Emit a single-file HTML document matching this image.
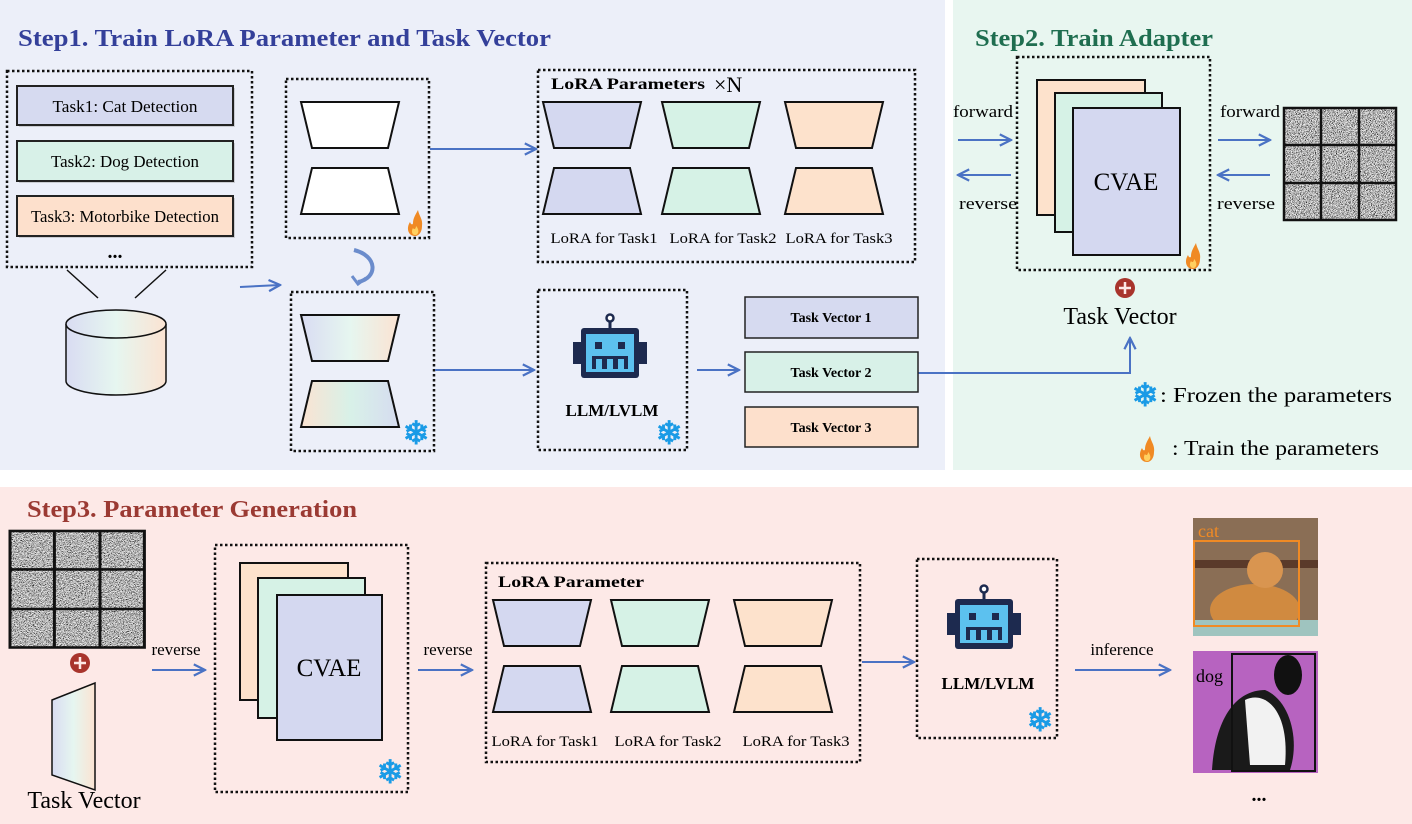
<!DOCTYPE html>
<html><head><meta charset="utf-8"><style>
html,body{margin:0;padding:0;background:#fff}
svg{display:block;font-family:"Liberation Serif",serif}
</style></head><body>
<svg width="1412" height="824" viewBox="0 0 1412 824" xmlns="http://www.w3.org/2000/svg">
<defs>
<marker id="ar" viewBox="0 0 10 10" refX="9" refY="5" markerWidth="7" markerHeight="7" orient="auto"><path d="M1,1 L9,5 L1,9" fill="none" stroke="#4a72c4" stroke-width="1.6"/></marker>
<linearGradient id="rb" x1="0" x2="1"><stop offset="0" stop-color="#d9dcf2"/><stop offset="0.5" stop-color="#e6f6f0"/><stop offset="1" stop-color="#fbe3d2"/></linearGradient>
<linearGradient id="rb2" x1="0" x2="1"><stop offset="0" stop-color="#fbe3d2"/><stop offset="0.5" stop-color="#d8f1e8"/><stop offset="1" stop-color="#d6dcf0"/></linearGradient>
<filter id="noise" x="0" y="0" width="100%" height="100%"><feTurbulence type="fractalNoise" baseFrequency="1.2" numOctaves="2" seed="3"/><feColorMatrix type="matrix" values="2.6 0 0 0 -0.8 2.6 0 0 0 -0.8 2.6 0 0 0 -0.8 0 0 0 0 1"/></filter>
<g id="enc"><path d="M0,0 H98 L87,46 H11 Z" stroke="#111" stroke-width="2"/></g>
<g id="dec"><path d="M11,0 H87 L98,46 H0 Z" stroke="#111" stroke-width="2"/></g>
<g id="flame"><path d="M0,14 C-7,14 -9,6 -5,0 C-4,3 -2,3 -2,1 C-2,-4 1,-8 3,-12 C4,-6 8,-3 7,4 C7,10 4,14 0,14 Z" fill="#f08a24"/><path d="M0,13 C-3,13 -4,9 -2,6 C-1,8 1,7 1,4 C3,6 4,9 3,11 C2,13 1,13 0,13Z" fill="#ffd060"/></g>
<g id="snow"><text x="0" y="10" font-size="32" text-anchor="middle" fill="#1a9be6" stroke="#1a9be6" stroke-width="1" font-family="DejaVu Sans">❄</text></g>
<g id="robot"><line x1="37" y1="0" x2="37" y2="12" stroke="#1d2a4f" stroke-width="3"/><circle cx="37" cy="2" r="3.5" fill="#fff" stroke="#1d2a4f" stroke-width="2.5"/><rect x="0" y="26" width="8" height="22" fill="#1d2a4f"/><rect x="66" y="26" width="8" height="22" fill="#1d2a4f"/><rect x="8" y="12" width="58" height="50" rx="3" fill="#1d2a4f"/><rect x="13" y="18" width="48" height="38" fill="#5cc1ef"/><rect x="22" y="26" width="7" height="7" fill="#1d2a4f"/><rect x="45" y="26" width="7" height="7" fill="#1d2a4f"/><rect x="19" y="40" width="36" height="13" fill="#1d2a4f"/><rect x="23" y="43" width="6" height="10" fill="#5cc1ef"/><rect x="34" y="43" width="6" height="10" fill="#5cc1ef"/><rect x="45" y="43" width="6" height="10" fill="#5cc1ef"/></g>
<g id="grid"><rect x="0" y="0" width="112" height="112" fill="#888" filter="url(#noise)"/><g stroke="#111" stroke-width="2.5" fill="none"><rect x="0" y="0" width="112" height="112"/><line x1="37" y1="0" x2="37" y2="112"/><line x1="75" y1="0" x2="75" y2="112"/><line x1="0" y1="37" x2="112" y2="37"/><line x1="0" y1="75" x2="112" y2="75"/></g></g>
</defs>

<rect x="0" y="0" width="945" height="470" fill="#eceff9"/>
<rect x="953" y="0" width="459" height="470" fill="#e8f6f0"/>
<rect x="0" y="487" width="1412" height="337" fill="#fde9e7"/>

<text x="18" y="46" font-size="24" font-weight="bold" fill="#34409a" textLength="533" lengthAdjust="spacingAndGlyphs">Step1. Train LoRA Parameter and Task Vector</text>
<text x="975" y="46" font-size="24" font-weight="bold" fill="#1f6e50" textLength="238" lengthAdjust="spacingAndGlyphs">Step2. Train Adapter</text>
<text x="27" y="517" font-size="24" font-weight="bold" fill="#9b3a33" textLength="330" lengthAdjust="spacingAndGlyphs">Step3. Parameter Generation</text>

<g fill="none" stroke="#111" stroke-width="2.5" stroke-dasharray="2.5,2.5">
<rect x="7" y="71" width="245" height="196"/>
<rect x="286" y="79" width="143" height="159"/>
<rect x="291" y="292" width="143" height="159"/>
<rect x="538" y="70" width="377" height="192"/>
<rect x="538" y="290" width="149" height="160"/>
<rect x="1017" y="57" width="193" height="213"/>
<rect x="215" y="545" width="193" height="247"/>
<rect x="486" y="563" width="374" height="199"/>
<rect x="917" y="559" width="140" height="179"/>
</g>

<g font-size="17" text-anchor="middle" stroke-width="2">
<rect x="19" y="88" width="216" height="39" fill="#999" opacity="0.4"/>
<rect x="17" y="86" width="216" height="39" fill="#d6daf0" stroke="#222"/>
<text x="125" y="112" textLength="145" lengthAdjust="spacingAndGlyphs">Task1: Cat Detection</text>
<rect x="19" y="143" width="216" height="40" fill="#999" opacity="0.4"/>
<rect x="17" y="141" width="216" height="40" fill="#d8f1e8" stroke="#222"/>
<text x="125" y="167" textLength="148" lengthAdjust="spacingAndGlyphs">Task2: Dog Detection</text>
<rect x="19" y="198" width="216" height="40" fill="#999" opacity="0.4"/>
<rect x="17" y="196" width="216" height="40" fill="#fde0cc" stroke="#222"/>
<text x="125" y="222" textLength="188" lengthAdjust="spacingAndGlyphs">Task3: Motorbike Detection</text>
</g>
<text x="115" y="258" font-size="20" text-anchor="middle" font-weight="bold">...</text>
<line x1="67" y1="270" x2="98" y2="298" stroke="#111" stroke-width="1.5"/>
<line x1="166" y1="270" x2="135" y2="298" stroke="#111" stroke-width="1.5"/>
<path d="M66,324 V381 A50,14 0 0 0 166,381 V324" fill="url(#rb)" stroke="#111" stroke-width="1.5"/>
<ellipse cx="116" cy="324" rx="50" ry="14" fill="url(#rb)" stroke="#111" stroke-width="1.5"/>

<g stroke="#4a72c4" stroke-width="2" fill="none" marker-end="url(#ar)">
<line x1="240" y1="287" x2="280" y2="285"/>
<line x1="430" y1="149" x2="536" y2="149"/>
<line x1="435" y1="370" x2="534" y2="370"/>
<line x1="697" y1="370" x2="739" y2="370"/>
<polyline points="918,373 1130,373 1130,338"/>
<line x1="958" y1="140" x2="1011" y2="140"/>
<line x1="1011" y1="175" x2="958" y2="175"/>
<line x1="1218" y1="140" x2="1270" y2="140"/>
<line x1="1270" y1="175" x2="1218" y2="175"/>
<line x1="152" y1="670" x2="205" y2="670"/>
<line x1="418" y1="670" x2="472" y2="670"/>
<line x1="862" y1="662" x2="914" y2="662"/>
<line x1="1075" y1="670" x2="1170" y2="670"/>
</g>
<path d="M354,250 C378,256 378,278 358,282" stroke="#6b8ccc" stroke-width="4" fill="none"/>
<path d="M352,276 L358,284 L366,278" stroke="#6b8ccc" stroke-width="3" fill="none"/>

<g fill="#fff"><use href="#enc" x="301" y="102"/><use href="#dec" x="301" y="168"/></g>
<use href="#flame" x="415" y="222"/>
<g><use href="#enc" x="301" y="315" fill="url(#rb)"/><use href="#dec" x="301" y="381" fill="url(#rb2)"/></g>
<use href="#snow" x="416" y="434"/>

<text x="551" y="89" font-size="16" font-weight="bold" textLength="154" lengthAdjust="spacingAndGlyphs">LoRA Parameters</text>
<text x="714" y="92" font-size="22">×N</text>
<use href="#enc" x="543" y="102" fill="#d4d8f0"/><use href="#dec" x="543" y="168" fill="#d4d8f0"/>
<use href="#enc" x="662" y="102" fill="#d6f2e6"/><use href="#dec" x="662" y="168" fill="#d6f2e6"/>
<use href="#enc" x="785" y="102" fill="#fde2cc"/><use href="#dec" x="785" y="168" fill="#fde2cc"/>
<g font-size="15" text-anchor="middle"><text x="604" y="243" textLength="107" lengthAdjust="spacingAndGlyphs">LoRA for Task1</text><text x="723" y="243" textLength="107" lengthAdjust="spacingAndGlyphs">LoRA for Task2</text><text x="839" y="243" textLength="107" lengthAdjust="spacingAndGlyphs">LoRA for Task3</text></g>

<use href="#robot" x="573" y="316"/>
<text x="612" y="416" font-size="17" font-weight="bold" text-anchor="middle">LLM/LVLM</text>
<use href="#snow" x="669" y="434"/>

<g font-size="14" font-weight="bold" text-anchor="middle" stroke-width="1.5">
<rect x="745" y="297" width="173" height="41" fill="#d6daf0" stroke="#222"/><text x="831" y="322">Task Vector 1</text>
<rect x="745" y="352" width="173" height="40" fill="#d8f1e8" stroke="#222"/><text x="831" y="377">Task Vector 2</text>
<rect x="745" y="407" width="173" height="40" fill="#fde0cc" stroke="#222"/><text x="831" y="432">Task Vector 3</text>
</g>

<g stroke="#111" stroke-width="2"><rect x="1037" y="80" width="108" height="135" fill="#fde2cc"/><rect x="1055" y="93" width="107" height="139" fill="#d6f2e6"/><rect x="1073" y="108" width="107" height="147" fill="#d4d8f0"/></g>
<text x="1126" y="190" font-size="25" text-anchor="middle">CVAE</text>
<use href="#flame" x="1193" y="255"/>
<circle cx="1125" cy="288" r="10" fill="#a8342c"/><path d="M1119,288 H1131 M1125,282 V294" stroke="#fde9e7" stroke-width="2.5"/>
<text x="1120" y="324" font-size="24" text-anchor="middle">Task Vector</text>
<g font-size="17" text-anchor="middle"><text x="983" y="117" textLength="60" lengthAdjust="spacingAndGlyphs">forward</text><text x="988" y="209" textLength="58" lengthAdjust="spacingAndGlyphs">reverse</text><text x="1250" y="117" textLength="60" lengthAdjust="spacingAndGlyphs">forward</text><text x="1246" y="209" textLength="58" lengthAdjust="spacingAndGlyphs">reverse</text></g>
<use href="#grid" x="1284" y="108"/>
<use href="#snow" x="1145" y="396"/>
<text x="1160" y="402" font-size="21" textLength="232" lengthAdjust="spacingAndGlyphs">: Frozen the parameters</text>
<use href="#flame" x="1147" y="448"/>
<text x="1172" y="455" font-size="21" textLength="207" lengthAdjust="spacingAndGlyphs">: Train the parameters</text>

<g transform="translate(10,531) scale(1.2,1.04)"><use href="#grid"/></g>
<circle cx="80" cy="663" r="10" fill="#a8342c"/><path d="M74,663 H86 M80,657 V669" stroke="#fde9e7" stroke-width="2.5"/>
<path d="M52,700 L95,683 V790 L52,775 Z" fill="url(#rb)" stroke="#111" stroke-width="1.5"/>
<text x="84" y="808" font-size="24" text-anchor="middle">Task Vector</text>
<g font-size="17" text-anchor="middle"><text x="176" y="655">reverse</text><text x="448" y="655">reverse</text><text x="1122" y="655">inference</text></g>

<g stroke="#111" stroke-width="2"><rect x="240" y="563" width="108" height="137" fill="#fde2cc"/><rect x="258" y="578" width="107" height="140" fill="#d6f2e6"/><rect x="277" y="595" width="105" height="145" fill="#d4d8f0"/></g>
<text x="329" y="676" font-size="25" text-anchor="middle">CVAE</text>
<use href="#snow" x="390" y="773"/>

<text x="498" y="587" font-size="16" font-weight="bold" textLength="146" lengthAdjust="spacingAndGlyphs">LoRA Parameter</text>
<use href="#enc" x="493" y="600" fill="#d4d8f0"/><use href="#dec" x="493" y="666" fill="#d4d8f0"/>
<use href="#enc" x="611" y="600" fill="#d6f2e6"/><use href="#dec" x="611" y="666" fill="#d6f2e6"/>
<use href="#enc" x="734" y="600" fill="#fde2cc"/><use href="#dec" x="734" y="666" fill="#fde2cc"/>
<g font-size="15" text-anchor="middle"><text x="545" y="746" textLength="107" lengthAdjust="spacingAndGlyphs">LoRA for Task1</text><text x="668" y="746" textLength="107" lengthAdjust="spacingAndGlyphs">LoRA for Task2</text><text x="796" y="746" textLength="107" lengthAdjust="spacingAndGlyphs">LoRA for Task3</text></g>

<use href="#robot" x="947" y="587"/>
<text x="988" y="689" font-size="17" font-weight="bold" text-anchor="middle">LLM/LVLM</text>
<use href="#snow" x="1040" y="721"/>

<rect x="1193" y="518" width="125" height="118" fill="#8a6e55"/>
<rect x="1193" y="560" width="125" height="8" fill="#5a3a2a"/>
<ellipse cx="1255" cy="610" rx="45" ry="26" fill="#d08a40"/>
<circle cx="1265" cy="570" r="18" fill="#d99550"/>
<rect x="1193" y="620" width="125" height="16" fill="#9fc4bf"/>
<rect x="1194" y="541" width="105" height="85" fill="none" stroke="#f08a24" stroke-width="2"/>
<text x="1198" y="537" font-size="18" fill="#f08a24">cat</text>
<rect x="1193" y="651" width="125" height="122" fill="#b763c0"/>
<path d="M1212,770 C1215,720 1235,690 1265,690 C1290,700 1300,740 1290,770 Z" fill="#1a1a1a"/>
<path d="M1245,700 C1265,690 1290,710 1285,765 H1250 Z" fill="#f2f2f2"/>
<ellipse cx="1288" cy="675" rx="14" ry="20" fill="#111"/>
<rect x="1232" y="654" width="83" height="117" fill="none" stroke="#111" stroke-width="2"/>
<text x="1196" y="682" font-size="18">dog</text>
<text x="1259" y="801" font-size="20" text-anchor="middle" font-weight="bold">...</text>
</svg>
</body></html>
